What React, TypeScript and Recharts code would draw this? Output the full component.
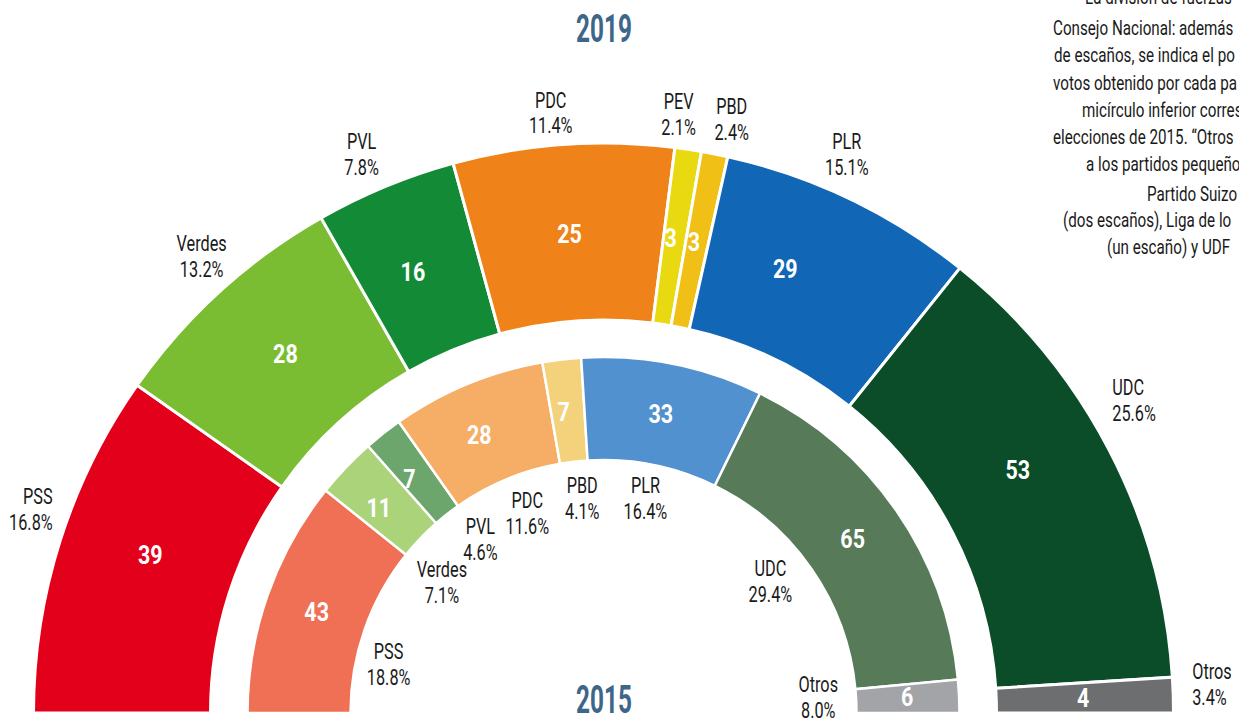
import React from 'react';
import { PieChart, Pie, Cell } from 'recharts';

const parties2019 = ['PSS', 'Verdes', 'PVL', 'PDC', 'PEV', 'PBD', 'PLR', 'UDC', 'Otros'];
const seats2019 = [39, 28, 16, 25, 3, 3, 29, 53, 4];
const votes2019 = ['16.8%', '13.2%', '7.8%', '11.4%', '2.1%', '2.4%', '15.1%', '25.6%', '3.4%'];

const parties2015 = ['PSS', 'Verdes', 'PVL', 'PDC', 'PBD', 'PLR', 'UDC', 'Otros'];
const seats2015 = [43, 11, 7, 28, 7, 33, 65, 6];
const votes2015 = ['18.8%', '7.1%', '4.6%', '11.6%', '4.1%', '16.4%', '29.4%', '8.0%'];

const noteLines = [
  'La división de fuerzas',
  'Consejo Nacional: además',
  'de escaños, se indica el po',
  'votos obtenido por cada pa',
  'micírculo inferior corres',
  'elecciones de 2015. “Otros',
  'a los partidos pequeño',
  'Partido Suizo',
  '(dos escaños), Liga de lo',
  '(un escaño) y UDF',
];

// styles / layout (not data)
const colors2019 = ['#e2001a', '#7bbd32', '#138a36', '#f0821a', '#e8d910', '#f0c016', '#1166b5', '#0b4d28', '#6c6e70'];
const colors2015 = ['#f07055', '#abd47a', '#6ca66c', '#f6ad65', '#f3d27b', '#5191d0', '#577b59', '#a2a4a7'];
const FONT = 'Roboto, "DejaVu Sans Condensed", sans-serif';
const CX = 603.5;
const CY = 713;

const noteX = [1085, 1053, 1054, 1053, 1082, 1053, 1086, 1147, 1063, 1107];
const noteY = [4, 35, 62, 90, 117, 144, 171, 201, 227, 254];

type Nudge = { anchor: 'start' | 'middle' | 'end'; dx: number; dy: number; na: number };
const outerNudges: Nudge[] = [
  { anchor: 'end', dx: 27, dy: -20, na: 1.7 },
  { anchor: 'middle', dx: 6, dy: -8, na: 0.8 },
  { anchor: 'middle', dx: -10, dy: 2, na: -0.9 },
  { anchor: 'middle', dx: -10, dy: 5, na: 0 },
  { anchor: 'middle', dx: -15, dy: 1, na: -0.5 },
  { anchor: 'middle', dx: 10, dy: 1, na: -0.4 },
  { anchor: 'middle', dx: -19, dy: -12, na: -3.4 },
  { anchor: 'start', dx: -29, dy: -33, na: -2.9 },
  { anchor: 'start', dx: -17, dy: -9, na: 0 },
];
const innerNudges: Nudge[] = [
  { anchor: 'middle', dx: -12, dy: 23, na: 0 },
  { anchor: 'middle', dx: -6, dy: 18, na: -1.3 },
  { anchor: 'middle', dx: 10, dy: -4, na: -1.4 },
  { anchor: 'middle', dx: 6, dy: 0, na: -1.6 },
  { anchor: 'middle', dx: 4, dy: 0, na: -0.8 },
  { anchor: 'middle', dx: 0, dy: -3, na: -0.4 },
  { anchor: 'middle', dx: -10, dy: -9, na: -0.3 },
  { anchor: 'middle', dx: 0, dy: -5, na: -0.3 },
];

const data2019 = parties2019.map((name, i) => ({ name, seats: seats2019[i] }));
const data2015 = parties2015.map((name, i) => ({ name, seats: seats2015[i] }));

const RAD = Math.PI / 180;
const polar = (cx: number, cy: number, r: number, a: number) => [
  cx + r * Math.cos(-a * RAD),
  cy + r * Math.sin(-a * RAD),
];

// Condensed text: horizontally scaled real text
const CText = ({
  x,
  y,
  lines,
  anchor = 'start',
  size,
  weight = 400,
  fill,
  sx,
  lh = 26,
}: {
  x: number;
  y: number;
  lines: (string | number)[];
  anchor?: 'start' | 'middle' | 'end';
  size: number;
  weight?: number;
  fill: string;
  sx: number;
  lh?: number;
}) => (
  <text
    transform={`translate(${x} ${y}) scale(${sx} 1)`}
    textAnchor={anchor}
    fill={fill}
    fontSize={size}
    fontWeight={weight}
    fontFamily={FONT}
  >
    {lines.map((l, i) => (
      <tspan key={i} x={0} y={i * lh}>
        {l}
      </tspan>
    ))}
  </text>
);

const makeLabel =
  (names: string[], seats: number[], votes: string[], nudges: Nudge[], labelR: number, numR: number) =>
  (props: any) => {
    const { cx, cy, midAngle, index } = props;
    const n = nudges[index];
    const [nx, ny] = polar(cx, cy, numR, midAngle - n.na);
    const [lx, ly] = polar(cx, cy, labelR, midAngle);
    const x = lx + n.dx;
    const y = ly + n.dy;
    return (
      <g key={`lbl-${index}`}>
        <CText x={nx} y={ny + 9} lines={[seats[index]]} anchor="middle" size={25} weight={700} fill="#ffffff" sx={0.86} />
        <CText x={x} y={y - 6} lines={[names[index], votes[index]]} anchor={n.anchor} size={22} fill="#1a1a1a" sx={0.74} lh={26} />
      </g>
    );
  };

export default function App() {
  return (
    <div style={{ position: 'absolute', left: 0, top: 0, width: 1239, height: 720, overflow: 'hidden', background: '#ffffff' }}>
      <PieChart width={1239} height={720} margin={{ top: 0, right: 0, bottom: 0, left: 0 }}>
        <Pie
          data={data2019}
          dataKey="seats"
          nameKey="name"
          cx={CX}
          cy={CY}
          startAngle={180}
          endAngle={0}
          innerRadius={393}
          outerRadius={570}
          stroke="#ffffff"
          strokeWidth={3}
          isAnimationActive={false}
          labelLine={false}
          label={makeLabel(parties2019, seats2019, votes2019, outerNudges, 606, 480)}
        >
          {data2019.map((d, i) => (
            <Cell key={d.name} fill={colors2019[i]} />
          ))}
        </Pie>
        <Pie
          data={data2015}
          dataKey="seats"
          nameKey="name"
          cx={CX}
          cy={CY}
          startAngle={180}
          endAngle={0}
          innerRadius={253}
          outerRadius={356}
          stroke="#ffffff"
          strokeWidth={2.5}
          isAnimationActive={false}
          labelLine={false}
          label={makeLabel(parties2015, seats2015, votes2015, innerNudges, 215, 304)}
        >
          {data2015.map((d, i) => (
            <Cell key={d.name} fill={colors2015[i]} />
          ))}
        </Pie>
      </PieChart>
      <svg width={1239} height={720} style={{ position: 'absolute', left: 0, top: 0, pointerEvents: 'none' }}>
        <CText x={604} y={42} lines={['2019']} anchor="middle" size={38} weight={700} fill="#3d6688" sx={0.64} />
        <CText x={604} y={713} lines={['2015']} anchor="middle" size={38} weight={700} fill="#3d6688" sx={0.64} />
        {noteLines.map((t, i) => (
          <CText key={i} x={noteX[i]} y={noteY[i]} lines={[t]} size={20} fill="#1a1a1a" sx={0.76} />
        ))}
      </svg>
    </div>
  );
}
